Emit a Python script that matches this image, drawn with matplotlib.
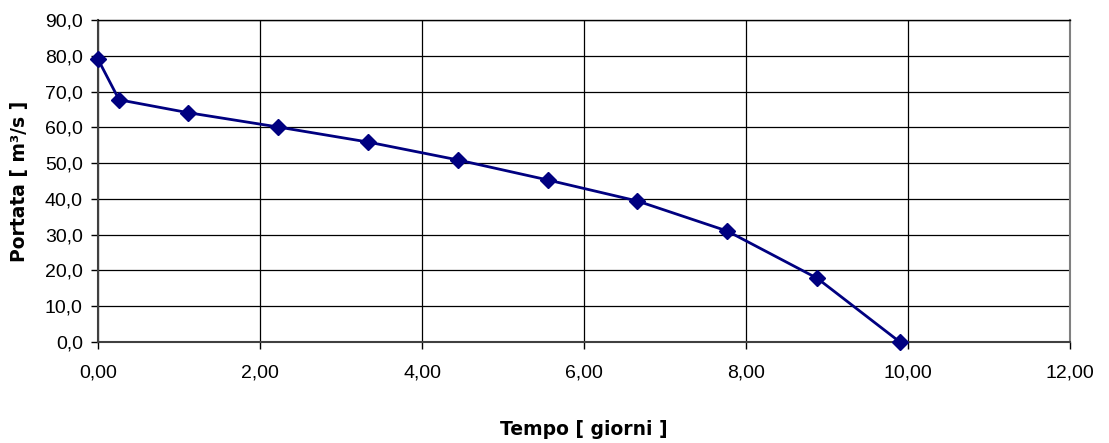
import matplotlib
matplotlib.use("Agg")
import matplotlib.pyplot as plt
from matplotlib.ticker import FuncFormatter, MultipleLocator

# dati
tempo = [0.0, 0.26, 1.11, 2.22, 3.33, 4.44, 5.55, 6.66, 7.77, 8.88, 9.90]
portata = [79.0, 67.7, 64.1, 60.1, 55.9, 50.9, 45.3, 39.4, 31.0, 17.8, 0.0]

navy = "#000080"

fig = plt.figure(figsize=(11.09, 4.43), dpi=100)
ax = fig.add_axes([0.0884, 0.228, 0.8764, 0.7269])

ax.plot(tempo, portata, color=navy, lw=2, marker="D", ms=8, zorder=5, clip_on=False)

ax.set_xlim(0, 12)
ax.set_ylim(0, 90)
ax.xaxis.set_major_locator(MultipleLocator(2))
ax.yaxis.set_major_locator(MultipleLocator(10))
ax.xaxis.set_major_formatter(FuncFormatter(lambda v, p: f"{v:.2f}".replace(".", ",")))
ax.yaxis.set_major_formatter(FuncFormatter(lambda v, p: f"{v:.1f}".replace(".", ",")))
ax.grid(True, color="black", lw=0.9)
ax.set_axisbelow(True)

for s in ["left", "bottom"]:
    ax.spines[s].set_color("#404040")
    ax.spines[s].set_linewidth(1.5)
ax.spines["right"].set_color("#808080")
ax.spines["right"].set_linewidth(1.5)
ax.spines["top"].set_color("black")
ax.spines["top"].set_linewidth(1)

ax.tick_params(labelsize=14, length=5, width=1, direction="out")
ax.tick_params(axis="x", pad=11)
ax.tick_params(axis="y", pad=6)
for lab in ax.get_xticklabels() + ax.get_yticklabels():
    lab.set_family("Liberation Sans")

ax.set_xlabel("Tempo [ giorni ]", fontsize=13.5, fontweight="bold", labelpad=28)
ax.set_ylabel("Portata [ m³/s ]", fontsize=13.5, fontweight="bold", labelpad=11)

fig.savefig("out.png", dpi=100)
